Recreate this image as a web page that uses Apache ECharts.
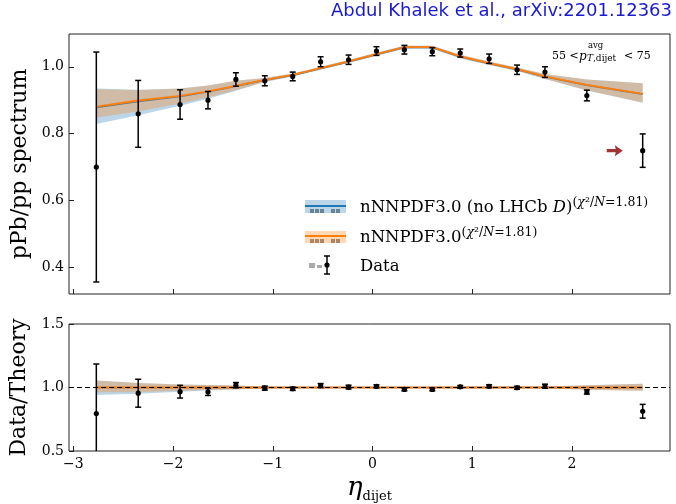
<!DOCTYPE html>
<html>
<head>
<meta charset="utf-8">
<script src="https://cdn.jsdelivr.net/npm/echarts@6/dist/echarts.min.js"></script>
<style>html,body{margin:0;padding:0;background:#fff}#c{width:676px;height:504px}</style>
</head>
<body>
<div id="c"></div>
<script>
// ---------- data ----------
const eta = [-2.77,-2.35,-1.93,-1.65,-1.37,-1.08,-0.80,-0.52,-0.24,0.04,0.32,0.60,0.88,1.17,1.45,1.73,2.15,2.71];
const dataVal = [0.700,0.859,0.887,0.900,0.962,0.958,0.971,1.015,1.021,1.047,1.051,1.045,1.041,1.024,0.991,0.984,0.914,0.749];
const dataErr = [0.344,0.100,0.044,0.026,0.020,0.015,0.013,0.015,0.014,0.013,0.013,0.012,0.012,0.014,0.014,0.016,0.016,0.050];
const thOrange = [0.881,0.899,0.913,0.926,0.943,0.961,0.976,0.996,1.016,1.038,1.059,1.059,1.031,1.011,0.993,0.971,0.946,0.919];
const thBlue   = [0.878,0.896,0.911,0.925,0.942,0.960,0.975,0.995,1.015,1.037,1.058,1.058,1.030,1.010,0.992,0.970,0.945,0.918];
const orangeHi = [0.933,0.930,0.935,0.944,0.958,0.966,0.980,1.000,1.020,1.042,1.063,1.063,1.036,1.016,0.998,0.978,0.962,0.951];
const orangeLo = [0.848,0.866,0.890,0.908,0.930,0.955,0.972,0.992,1.012,1.034,1.055,1.055,1.026,1.006,0.988,0.964,0.930,0.893];
const blueHi   = [0.935,0.931,0.935,0.944,0.958,0.966,0.980,1.000,1.020,1.042,1.063,1.063,1.036,1.016,0.998,0.978,0.962,0.951];
const blueLo   = [0.829,0.855,0.883,0.904,0.928,0.954,0.971,0.991,1.011,1.033,1.054,1.054,1.025,1.005,0.987,0.963,0.929,0.892];

const ratioVal = [0.795,0.955,0.967,0.965,1.018,0.995,0.990,1.015,1.003,1.009,0.985,0.985,1.005,1.010,0.998,1.010,0.965,0.813];
const ratioErr = [0.390,0.110,0.050,0.028,0.021,0.016,0.013,0.016,0.015,0.012,0.011,0.011,0.011,0.012,0.012,0.016,0.017,0.054];
const ratioTheory = [1,1,1,1,1,1,1,1,1,1,1,1,1,1,1,1,1,1];
const rOrangeHi = [1.055,1.035,1.024,1.019,1.016,1.006,1.004,1.004,1.004,1.004,1.004,1.004,1.005,1.005,1.005,1.007,1.017,1.030];
const rOrangeLo = [0.963,0.963,0.975,0.981,0.986,0.994,0.996,0.996,0.996,0.996,0.996,0.996,0.995,0.995,0.995,0.993,0.983,0.975];
const rBlueHi   = [1.055,1.035,1.024,1.019,1.016,1.006,1.004,1.004,1.004,1.004,1.004,1.004,1.005,1.005,1.005,1.007,1.017,1.030];
const rBlueLo   = [0.940,0.950,0.966,0.976,0.984,0.993,0.995,0.996,0.996,0.996,0.996,0.996,0.995,0.995,0.995,0.993,0.983,0.975];

const xTicks = [-3,-2,-1,0,1,2];
const xTickLabels = ['−3','−2','−1','0','1','2'];
const yTopTicks = [0.4,0.6,0.8,1.0];
const yTopLabels = ['0.4','0.6','0.8','1.0'];
const yBotTicks = [0.5,1.0,1.5];
const yBotLabels = ['0.5','1.0','1.5'];
const arrowPos = [2.43, 0.749];

// ---------- styling ----------
const SERIF = 'DejaVu Serif';
const BLUE = '#1f77b4', ORANGE = '#ff7f0e';
const BLUE_BAND = 'rgba(31,119,180,0.3)', ORANGE_BAND = 'rgba(255,127,14,0.3)';
const xMin = -3.044, xMax = 2.984;

function bandSeries(hi, lo, color, ax, z) {
  return {
    type: 'custom', xAxisIndex: ax, yAxisIndex: ax, z: z, silent: true,
    data: [[eta[0], lo[0]]],
    renderItem: function (params, api) {
      const pts = [];
      for (let i = 0; i < eta.length; i++) pts.push(api.coord([eta[i], hi[i]]));
      for (let i = eta.length - 1; i >= 0; i--) pts.push(api.coord([eta[i], lo[i]]));
      return { type: 'polygon', shape: { points: pts }, style: { fill: color } };
    }
  };
}
function lineSeries(vals, color, ax, z, w) {
  return {
    type: 'line', xAxisIndex: ax, yAxisIndex: ax, z: z, silent: true,
    data: eta.map((x, i) => [x, vals[i]]), symbol: 'none',
    lineStyle: { color: color, width: w }
  };
}
function errSeries(vals, errs, ax, z) {
  return {
    type: 'custom', xAxisIndex: ax, yAxisIndex: ax, z: z, silent: true,
    data: eta.map((x, i) => [x, vals[i], errs[i]]),
    renderItem: function (params, api) {
      const cs = params.coordSys;
      const x = api.value(0), y = api.value(1), e = api.value(2);
      const p = api.coord([x, y]);
      const t = api.coord([x, y + e]);
      const b = api.coord([x, y - e]);
      const top = Math.max(t[1], cs.y), bot = Math.min(b[1], cs.y + cs.height);
      const st = { stroke: '#000', lineWidth: 1.5 };
      const ch = [
        { type: 'line', shape: { x1: p[0], y1: top, x2: p[0], y2: bot }, style: st }
      ];
      if (t[1] >= cs.y) ch.push({ type: 'line', shape: { x1: p[0] - 3, y1: t[1], x2: p[0] + 3, y2: t[1] }, style: st });
      if (b[1] <= cs.y + cs.height) ch.push({ type: 'line', shape: { x1: p[0] - 3, y1: b[1], x2: p[0] + 3, y2: b[1] }, style: st });
      ch.push({ type: 'circle', shape: { cx: p[0], cy: p[1], r: 2.6 }, style: { fill: '#000' } });
      return { type: 'group', children: ch };
    }
  };
}

const axisLabelStyle = { fontFamily: SERIF, fontSize: 14, color: '#000' };
const noLine = { show: false, onZero: false };

const option = {
  backgroundColor: '#fff',
  animation: false,
  grid: [
    { left: 69, right: 6, top: 34, height: 260, show: true, borderColor: '#222', borderWidth: 1, backgroundColor: 'transparent' },
    { left: 69, right: 6, top: 324, height: 129, show: true, borderColor: '#222', borderWidth: 1, backgroundColor: 'transparent' }
  ],
  xAxis: [
    { type: 'value', gridIndex: 0, min: xMin, max: xMax, position: 'bottom',
      axisLine: noLine, splitLine: { show: false },
      axisTick: { show: true, inside: true, length: 5, customValues: xTicks, lineStyle: { color: '#222' } },
      axisLabel: { show: false, customValues: xTicks } },
    { type: 'value', gridIndex: 1, min: xMin, max: xMax, position: 'bottom',
      axisLine: noLine, splitLine: { show: false },
      axisTick: { show: true, inside: true, length: 5, customValues: xTicks, lineStyle: { color: '#222' } },
      axisLabel: Object.assign({ show: true, margin: 6, customValues: xTicks,
        formatter: v => xTickLabels[xTicks.indexOf(Math.round(v))] }, axisLabelStyle),
      name: '{e|η}{s|dijet}', nameLocation: 'middle', nameGap: 22,
      nameTextStyle: { rich: {
        e: { fontFamily: SERIF, fontStyle: 'italic', fontSize: 26, color: '#000', lineHeight: 30 },
        s: { fontFamily: SERIF, fontSize: 13, color: '#000', verticalAlign: 'bottom', lineHeight: 22 }
      } } }
  ],
  yAxis: [
    { type: 'value', gridIndex: 0, min: 0.32, max: 1.098, position: 'left',
      axisLine: noLine, splitLine: { show: false },
      axisTick: { show: true, inside: true, length: 5, customValues: yTopTicks, lineStyle: { color: '#222' } },
      axisLabel: Object.assign({ margin: 5, customValues: yTopTicks,
        formatter: v => yTopLabels[yTopTicks.findIndex(t => Math.abs(t - v) < 1e-6)] }, axisLabelStyle),
      name: 'pPb/pp spectrum', nameLocation: 'middle', nameRotate: 90, nameGap: 36,
      nameTextStyle: { fontFamily: SERIF, fontSize: 22, color: '#000' } },
    { type: 'value', gridIndex: 1, min: 0.5, max: 1.5, interval: 0.5, position: 'left',
      axisLine: noLine, splitLine: { show: false },
      axisTick: { show: true, inside: true, length: 5, customValues: yBotTicks, lineStyle: { color: '#222' } },
      axisLabel: Object.assign({ margin: 5, customValues: yBotTicks,
        formatter: v => yBotLabels[yBotTicks.findIndex(t => Math.abs(t - v) < 1e-6)] }, axisLabelStyle),
      name: 'Data/Theory', nameLocation: 'middle', nameRotate: 90, nameGap: 39,
      nameTextStyle: { fontFamily: SERIF, fontSize: 22, color: '#000' } }
  ],
  series: [
    bandSeries(blueHi, blueLo, BLUE_BAND, 0, 1),
    lineSeries(thBlue, BLUE, 0, 2, 1.6),
    bandSeries(orangeHi, orangeLo, ORANGE_BAND, 0, 3),
    lineSeries(thOrange, ORANGE, 0, 4, 1.8),
    errSeries(dataVal, dataErr, 0, 6),
    { type: 'scatter', xAxisIndex: 0, yAxisIndex: 0, z: 6, silent: true,
      data: [arrowPos],
      symbol: 'path://M0,4.2 L9,4.2 L8,0 L16,6 L8,12 L9,7.8 L0,7.8 Z',
      symbolSize: [16, 11], itemStyle: { color: '#8b0000' } },

    bandSeries(rBlueHi, rBlueLo, BLUE_BAND, 1, 1),
    lineSeries(ratioTheory, BLUE, 1, 2, 1.6),
    bandSeries(rOrangeHi, rOrangeLo, ORANGE_BAND, 1, 3),
    Object.assign(lineSeries(ratioTheory, ORANGE, 1, 4, 1.8), {
      markLine: { silent: true, symbol: 'none', label: { show: false }, z: 5,
        lineStyle: { color: '#000', type: [5, 3], width: 1.2 },
        data: [{ yAxis: 1 }] } }),
    errSeries(ratioVal, ratioErr, 1, 6)
  ],
  graphic: [
    { type: 'text', right: 4, top: 2, style: { text: 'Abdul Khalek et al., arXiv:2201.12363',
      font: '18px "DejaVu Sans"', fill: '#1a1ad0' } },
    // pT annotation
    { type: 'text', x: 552, y: 56, style: { text: '55 <', font: '11px "DejaVu Serif"', fill: '#000', verticalAlign: 'middle' } },
    { type: 'text', x: 579, y: 57, style: { text: 'p', font: 'italic 12px "DejaVu Serif"', fill: '#000', verticalAlign: 'middle' } },
    { type: 'text', x: 588, y: 46, style: { text: 'avg', font: '8.5px "DejaVu Serif"', fill: '#000', verticalAlign: 'middle' } },
    { type: 'text', x: 587, y: 59, style: { text: '{i|T},dijet', rich: { i: { fontStyle: 'italic', fontSize: 9, fontFamily: SERIF } }, font: '9px "DejaVu Serif"', fill: '#000', verticalAlign: 'middle' } },
    { type: 'text', x: 624, y: 56, style: { text: '< 75', font: '11px "DejaVu Serif"', fill: '#000', verticalAlign: 'middle' } },
    // legend row 1
    { type: 'rect', shape: { x: 310, y: 209, width: 4, height: 4 }, style: { fill: '#888' } },
    { type: 'rect', shape: { x: 315, y: 209, width: 4, height: 4 }, style: { fill: '#888' } },
    { type: 'rect', shape: { x: 320, y: 209, width: 4, height: 4 }, style: { fill: '#888' } },
    { type: 'rect', shape: { x: 331, y: 209, width: 4, height: 4 }, style: { fill: '#888' } },
    { type: 'rect', shape: { x: 336, y: 209, width: 4, height: 4 }, style: { fill: '#888' } },
    { type: 'rect', shape: { x: 305, y: 200, width: 41, height: 13 }, style: { fill: BLUE_BAND } },
    { type: 'line', shape: { x1: 305, y1: 206, x2: 346, y2: 206 }, style: { stroke: BLUE, lineWidth: 1.8 } },
    { type: 'text', x: 360, y: 208, style: { text: '{a|nNNPDF3.0 (no LHCb }{i|D}{a|)}{s|(}{si|χ}{s|²/}{si|N}{s|=1.81)}',
      verticalAlign: 'middle', fill: '#000',
      rich: { a: { fontFamily: SERIF, fontSize: 16.5, lineHeight: 24 },
              i: { fontFamily: SERIF, fontStyle: 'italic', fontSize: 16.5, lineHeight: 24 },
              s: { fontFamily: SERIF, fontSize: 12.5, verticalAlign: 'top', lineHeight: 14 },
              si: { fontFamily: SERIF, fontStyle: 'italic', fontSize: 12.5, verticalAlign: 'top', lineHeight: 14 } } } },
    // legend row 2
    { type: 'rect', shape: { x: 310, y: 239, width: 4, height: 4 }, style: { fill: '#888' } },
    { type: 'rect', shape: { x: 315, y: 239, width: 4, height: 4 }, style: { fill: '#888' } },
    { type: 'rect', shape: { x: 320, y: 239, width: 4, height: 4 }, style: { fill: '#888' } },
    { type: 'rect', shape: { x: 331, y: 239, width: 4, height: 4 }, style: { fill: '#888' } },
    { type: 'rect', shape: { x: 336, y: 239, width: 4, height: 4 }, style: { fill: '#888' } },
    { type: 'rect', shape: { x: 305, y: 231, width: 41, height: 12 }, style: { fill: ORANGE_BAND } },
    { type: 'line', shape: { x1: 305, y1: 236, x2: 346, y2: 236 }, style: { stroke: ORANGE, lineWidth: 1.8 } },
    { type: 'text', x: 360, y: 238, style: { text: '{a|nNNPDF3.0}{s|(}{si|χ}{s|²/}{si|N}{s|=1.81)}',
      verticalAlign: 'middle', fill: '#000',
      rich: { a: { fontFamily: SERIF, fontSize: 16.5, lineHeight: 24 },
              s: { fontFamily: SERIF, fontSize: 12.5, verticalAlign: 'top', lineHeight: 14 },
              si: { fontFamily: SERIF, fontStyle: 'italic', fontSize: 12.5, verticalAlign: 'top', lineHeight: 14 } } } },
    // legend row 3
    { type: 'rect', shape: { x: 309, y: 263, width: 6, height: 5 }, style: { fill: '#aaa' } },
    { type: 'rect', shape: { x: 317, y: 265, width: 5, height: 3 }, style: { fill: '#aaa' } },
    { type: 'line', shape: { x1: 327, y1: 256, x2: 327, y2: 274 }, style: { stroke: '#000', lineWidth: 1.5 } },
    { type: 'line', shape: { x1: 324, y1: 256, x2: 330, y2: 256 }, style: { stroke: '#000', lineWidth: 1.5 } },
    { type: 'line', shape: { x1: 324, y1: 274, x2: 330, y2: 274 }, style: { stroke: '#000', lineWidth: 1.5 } },
    { type: 'circle', shape: { cx: 327, cy: 265, r: 2.6 }, style: { fill: '#000' } },
    { type: 'text', x: 360, y: 267, style: { text: 'Data', font: '16.5px "DejaVu Serif"', fill: '#000', verticalAlign: 'middle' } }
  ]
};
const chart = echarts.init(document.getElementById('c'), null, { renderer: 'canvas' });
chart.setOption(option);
</script>
</body>
</html>
